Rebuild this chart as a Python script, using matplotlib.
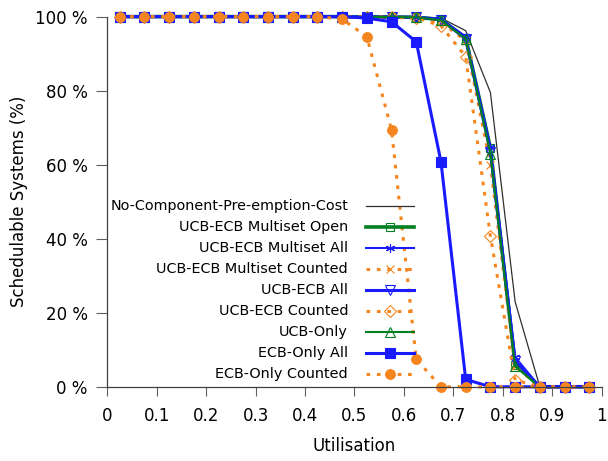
import matplotlib
matplotlib.use("Agg")
import matplotlib.pyplot as plt

util = [0.025, 0.075, 0.125, 0.175, 0.225, 0.275, 0.325, 0.375, 0.425, 0.475,
        0.525, 0.575, 0.625, 0.675, 0.725, 0.775, 0.825, 0.875, 0.925, 0.975]

no_cost          = [100, 100, 100, 100, 100, 100, 100, 100, 100, 100, 100, 100, 100, 99.6, 96.2, 79.5, 23.0, 0, 0, 0]
multiset_open    = [100, 100, 100, 100, 100, 100, 100, 100, 100, 100, 99.9, 99.9, 99.8, 99.2, 94.3, 64.5, 6.0, 0, 0, 0]
multiset_all     = [100, 100, 100, 100, 100, 100, 100, 100, 100, 100, 99.9, 99.9, 99.8, 99.3, 94.6, 64.8, 8.0, 0, 0, 0]
multiset_counted = [100, 100, 100, 100, 100, 100, 100, 100, 100, 100, 99.9, 99.8, 99.6, 98.5, 93.5, 60.0, 5.5, 0, 0, 0]
ucb_ecb_all      = [100, 100, 100, 100, 100, 100, 100, 100, 100, 100, 99.9, 99.9, 99.8, 99.2, 94.0, 63.5, 7.0, 0, 0, 0]
ucb_ecb_counted  = [100, 100, 100, 100, 100, 100, 100, 100, 100, 100, 99.9, 99.8, 99.7, 97.5, 89.2, 40.7, 1.8, 0, 0, 0]
ucb_only         = [100, 100, 100, 100, 100, 100, 100, 100, 100, 100, 99.9, 99.9, 99.8, 99.0, 94.0, 63.0, 5.5, 0, 0, 0]
ecb_all          = [100, 100, 100, 100, 100, 100, 100, 100, 100, 100, 99.6, 98.6, 93.2, 60.8, 2.0, 0, 0, 0, 0, 0]
ecb_counted      = [100, 100, 100, 100, 100, 100, 100, 100, 100, 99.3, 94.6, 69.4, 7.4, 0, 0, 0, 0, 0, 0, 0]

BLUE, GREEN, ORANGE, BLACK = "#1a1aff", "#008020", "#f5861f", "#303030"
DOT = (0, (1.2, 2.2))

# label, values, colour, linewidth, linestyle, marker, marker size, filled
SERIES = [
    ("No-Component-Pre-emption-Cost", no_cost, BLACK, 0.9, "-", None, 0, False),
    ("UCB-ECB Multiset Open", multiset_open, GREEN, 2.6, "-", "s", 6, False),
    ("UCB-ECB Multiset All", multiset_all, BLUE, 1.5, "-", (6, 2, 0), 6.5, False),
    ("UCB-ECB Multiset Counted", multiset_counted, ORANGE, 2.2, DOT, "x", 6, False),
    ("UCB-ECB All", ucb_ecb_all, BLUE, 2.2, "-", "v", 6.5, False),
    ("UCB-ECB Counted", ucb_ecb_counted, ORANGE, 2.2, DOT, "D", 6, False),
    ("UCB-Only", ucb_only, GREEN, 1.5, "-", "^", 6.5, False),
    ("ECB-Only All", ecb_all, BLUE, 2.2, "-", "s", 6.5, True),
    ("ECB-Only Counted", ecb_counted, ORANGE, 2.2, DOT, "o", 7, True),
]

plt.rcParams["font.family"] = "DejaVu Sans"
fig = plt.figure(figsize=(6.08, 4.61), dpi=100)
ax = fig.add_axes([0.1765, 0.161, 0.813, 0.803])

def style(col, mk, ms, filled, lw, ls):
    kw = dict(color=col, lw=lw, ls=ls, marker=mk, ms=ms, clip_on=False)
    if mk is not None:
        if filled:
            kw.update(mfc=col, mec=col, mew=0.8)
        else:
            kw.update(mfc="none", mec=col, mew=0.8)
    return kw

for lab, vals, col, lw, ls, mk, ms, filled in SERIES:
    ax.plot(util, vals, **style(col, mk, ms, filled, lw, ls))

# gnuplot-like key: right-aligned text, sample line to its right
y0, dy = 0.4876, 0.0568
for i, (lab, vals, col, lw, ls, mk, ms, filled) in enumerate(SERIES):
    y = y0 - i * dy
    ax.text(0.487, y, lab, transform=ax.transAxes, ha="right", va="center", fontsize=10.4)
    ax.plot([0.5232, 0.6201], [y, y], transform=ax.transAxes, clip_on=False,
            color=col, lw=lw, ls=ls)
    if mk is not None:
        ax.plot([0.5719], [y], transform=ax.transAxes, clip_on=False, ls="none",
                **{k: v for k, v in style(col, mk, ms, filled, lw, ls).items()
                   if k not in ("ls", "lw", "clip_on")})

ax.set_xlim(0, 1)
ax.set_ylim(0, 100)
ax.set_xticks([0, 0.1, 0.2, 0.3, 0.4, 0.5, 0.6, 0.7, 0.8, 0.9, 1])
ax.set_xticklabels(["0", "0.1", "0.2", "0.3", "0.4", "0.5", "0.6", "0.7", "0.8", "0.9", "1"])
ax.set_yticks([0, 20, 40, 60, 80, 100])
ax.set_yticklabels(["0 %", "20 %", "40 %", "60 %", "80 %", "100 %"])
for s in ("top", "right"):
    ax.spines[s].set_visible(False)
for s in ("left", "bottom"):
    ax.spines[s].set_color("#404040")
    ax.spines[s].set_linewidth(0.9)
ax.tick_params(axis="both", direction="out", color="#606060", labelsize=12, width=0.8)
ax.tick_params(axis="y", length=8, pad=6)
ax.tick_params(axis="x", length=6.5, pad=8)
ax.set_xlabel("Utilisation", fontsize=12, labelpad=9)
ax.set_ylabel("Schedulable Systems (%)", fontsize=12, labelpad=5)

fig.savefig("out.png", dpi=100)
